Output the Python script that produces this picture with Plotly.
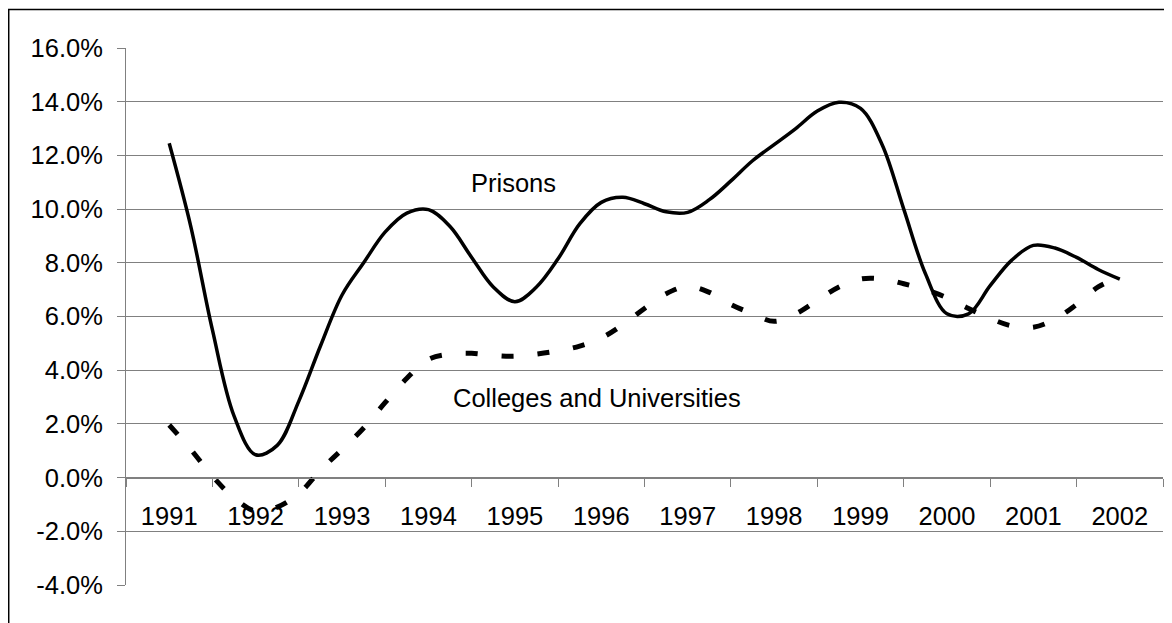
import plotly.graph_objects as go

# ---- data (year index 0 = 1991, quarterly steps) ----
years = ["1991", "1992", "1993", "1994", "1995", "1996",
         "1997", "1998", "1999", "2000", "2001", "2002"]
t_quarter = [i * 0.25 for i in range(45)]

prisons = [12.45, 9.35, 5.5, 2.3, 0.85, 1.2, 2.85, 4.9, 6.8, 8.0, 9.15, 9.85,
           9.98, 9.35, 8.2, 7.1, 6.55, 7.1, 8.15, 9.45, 10.25, 10.44, 10.2, 9.9,
           9.88, 10.35, 11.05, 11.8, 12.4, 13.0, 13.65, 13.98, 13.75, 12.4, 10.0, 7.6,
           6.1, 6.1, 7.15, 8.1, 8.65, 8.55, 8.2, 7.75, 7.39]

colleges = [1.96, 1.05, 0.05, -0.75, -1.25, -1.1, -0.6, 0.28, 1.05, 1.85, 2.8, 3.7,
            4.4, 4.6, 4.63, 4.55, 4.52, 4.6, 4.72, 4.9, 5.2, 5.7, 6.3, 6.85,
            7.12, 6.9, 6.45, 6.1, 5.82, 6.1, 6.6, 7.1, 7.4, 7.4, 7.22, 7.0,
            6.7, 6.3, 5.93, 5.65, 5.6, 5.9, 6.45, 7.1, 7.46]

y_tickvals = [-4, -2, 0, 2, 4, 6, 8, 10, 12, 14, 16]
y_ticktext = ["-4.0%", "-2.0%", "0.0%", "2.0%", "4.0%", "6.0%",
              "8.0%", "10.0%", "12.0%", "14.0%", "16.0%"]

FONT = "Liberation Sans, Arial, sans-serif"
GRID = "#808080"
FS = 25.5

fig = go.Figure()
fig.add_trace(go.Scatter(
    x=t_quarter, y=prisons, mode="lines", name="Prisons",
    line=dict(color="black", width=3.5, shape="spline", smoothing=1.0),
    hoverinfo="skip"))
fig.add_trace(go.Scatter(
    x=t_quarter, y=colleges, mode="lines", name="Colleges and Universities",
    line=dict(color="black", width=5, shape="spline", smoothing=1.0, dash="12px,24px"),
    hoverinfo="skip"))

fig.update_layout(
    width=1172, height=623,
    margin=dict(l=118, r=17, t=40, b=46),
    paper_bgcolor="white", plot_bgcolor="white",
    showlegend=False,
    font=dict(family=FONT, size=FS, color="black"),
    xaxis=dict(
        range=[-0.5, 11.5], anchor="free", position=0.2,
        tickmode="array", tickvals=list(range(len(years))), ticktext=years,
        ticks="", showgrid=False, zeroline=False,
        showline=True, linecolor=GRID, linewidth=1,
        ticklabelstandoff=16,
        minor=dict(tick0=0.5, dtick=1, ticks="outside", ticklen=8,
                   tickcolor=GRID, tickwidth=1, showgrid=False),
        tickfont=dict(family=FONT, size=FS, color="black"),
        fixedrange=True,
    ),
    yaxis=dict(
        range=[-4, 16], tickmode="array", tickvals=y_tickvals, ticktext=y_ticktext,
        ticks="outside", ticklen=8, tickcolor=GRID, tickwidth=1,
        showgrid=True, gridcolor=GRID, gridwidth=1, zeroline=False,
        showline=True, linecolor=GRID, linewidth=1,
        ticklabelstandoff=9,
        tickfont=dict(family=FONT, size=FS, color="black"),
        fixedrange=True,
    ),
    annotations=[
        dict(x=3.985, y=10.97, xref="x", yref="y", text="Prisons", showarrow=False,
             font=dict(family=FONT, size=FS, color="black")),
        dict(x=4.945, y=2.95, xref="x", yref="y", text="Colleges and Universities",
             showarrow=False, font=dict(family=FONT, size=FS, color="black")),
    ],
    shapes=[
        dict(type="path", xref="paper", yref="paper",
             path="M -0.1131,-0.2 L -0.1131,1.0717 L 1.05,1.0717",
             line=dict(color="black", width=1.5)),
    ],
)

fig.write_html("out.html")
